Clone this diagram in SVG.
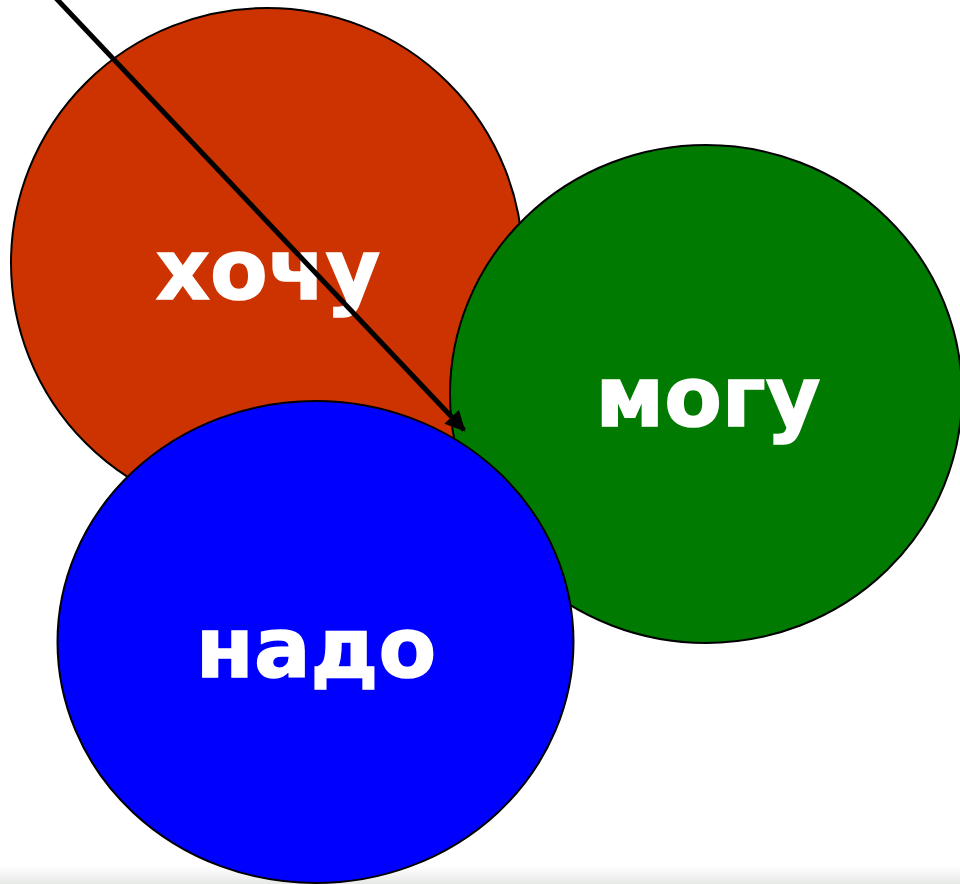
<svg xmlns="http://www.w3.org/2000/svg" width="960" height="884" viewBox="0 0 960 884">
<defs>
<style>
.node ellipse{stroke:#000;stroke-width:2}
.lbl{font-family:"DejaVu Sans","Verdana",sans-serif;font-weight:bold;font-size:84px;fill:#fff;stroke:#fff;stroke-width:1.5;text-anchor:middle}
</style>
<marker id="ah" viewBox="0 0 10 10" refX="9" refY="5" markerWidth="4.6" markerHeight="4" markerUnits="strokeWidth" orient="auto">
<path d="M0,0 L10,5 L0,10 Z" fill="#000"/>
</marker>
<linearGradient id="strip" x1="0" y1="0" x2="0" y2="1">
<stop offset="0" stop-color="#ffffff"/>
<stop offset="1" stop-color="#e6e8e6"/>
</linearGradient>
</defs>
<rect width="960" height="884" fill="#fff"/>
<rect x="0" y="866" width="960" height="18" fill="url(#strip)"/>
<g id="node-hochu" class="node">
<ellipse cx="267" cy="263" rx="256" ry="255" fill="#cc3300"/>
<text class="lbl" x="268" y="299">хочу</text>
</g>
<g id="node-mogu" class="node">
<ellipse cx="706" cy="394" rx="256" ry="249" fill="#007a00"/>
<text class="lbl" x="708" y="426">могу</text>
</g>
<g id="node-nado" class="node">
<ellipse cx="315.5" cy="642" rx="258" ry="241" fill="#0000ff"/>
<text class="lbl" x="316" y="677">надо</text>
</g>
<g id="connectors">
<line x1="52" y1="-6" x2="464" y2="430" stroke="#000" stroke-width="5" marker-end="url(#ah)"/>
</g>
</svg>
